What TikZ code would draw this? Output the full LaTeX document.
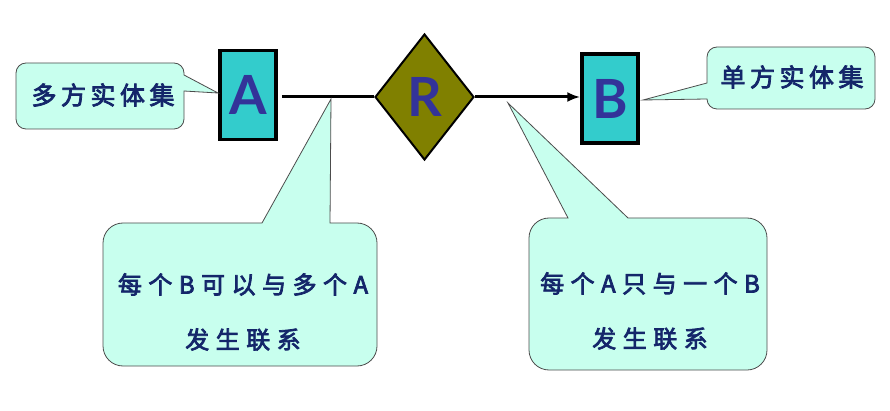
\documentclass[tikz,border=0pt]{standalone}
\usepackage{fontspec}
\usepackage{tikz}
\usetikzlibrary{shapes.geometric, arrows.meta}

\newfontfamily\cjk{Noto Sans CJK SC}[LetterSpace=18, FakeBold=3]
\newfontfamily\cjkwide{Noto Sans CJK SC}[LetterSpace=27, FakeBold=3]
\newfontfamily\letterfont{Lato}

\definecolor{mint}{HTML}{C8FFEE}
\definecolor{cyanbox}{HTML}{33CCCC}
\definecolor{olivebox}{HTML}{808000}
\definecolor{letterblue}{HTML}{333399}
\definecolor{textnavy}{HTML}{14266A}

\tikzset{
    entity/.style={draw=black, line width=3.5pt, fill=cyanbox, minimum width=56pt, minimum height=89pt, inner sep=0pt, text=letterblue, font=\letterfont\bfseries\fontsize{54}{54}\selectfont},
    relation/.style={diamond, draw=black, line width=2pt, fill=olivebox, minimum width=99pt, minimum height=126pt, inner sep=0pt, text=letterblue, font=\letterfont\bfseries\fontsize{54}{54}\selectfont},
    callbox/.style={draw=black!70, line width=0.8pt, fill=mint},
    calltext/.style={text=textnavy, font=\cjk\fontsize{25}{25}\selectfont},
    notetext/.style={text=textnavy, align=center, font=\cjkwide\fontsize{24}{55}\selectfont},
    link/.style={line width=3pt}
}

\begin{document}
\begin{tikzpicture}[x=1pt, y=-1pt]
    \useasboundingbox (0, 0) rectangle (890, 411);

    % draw entities and relation
    \node[entity] (A) at (248, 95) {A};
    \node[relation] (R) at (424.5, 97) {R};
    \node[entity] (B) at (610, 98.5) {B};

    \draw[link, shorten <=4pt] (A.east |- R.west) -- (R.west);
    \draw[link, -{Latex[length=13pt, width=10pt]}] (R.east) -- (R.east -| B.west);

    % pointer tips
    \coordinate (tipA) at (218, 93);
    \coordinate (tipB) at (643, 100);
    \coordinate (tipM) at (331, 99);
    \coordinate (tipO) at (508, 103);

    % draw callouts
    \draw[callbox] (100, 63) [rounded corners=10pt] -- (184, 63) [sharp corners] -- (184, 75) -- (tipA) -- (184, 91) [rounded corners=10pt] -- (184, 129) -- (16, 129) -- (16, 63) -- cycle;
    \draw[callbox] (790, 47) [rounded corners=10pt] -- (875, 47) -- (875, 109) -- (707, 109) [sharp corners] -- (707, 99) -- (tipB) -- (707, 83) [rounded corners=10pt] -- (707, 47) -- cycle;
    \draw[callbox] (103, 300) [rounded corners=20pt] -- (103, 223) [sharp corners] -- (262, 223) -- (tipM) -- (330, 223) [rounded corners=20pt] -- (377, 223) -- (377, 366) -- (103, 366) -- cycle;
    \draw[callbox] (529, 300) [rounded corners=20pt] -- (529, 218) [sharp corners] -- (568, 218) -- (tipO) -- (628, 218) [rounded corners=20pt] -- (767, 218) -- (767, 370) -- (529, 370) -- cycle;

    % draw texts
    \node[calltext] (many) at (103, 95) {多方实体集};
    \node[calltext] (one) at (792, 77) {单方实体集};
    \node[notetext] (manynote) at (243, 312) {每个B可以与多个A\\发生联系};
    \node[notetext] (onenote) at (650, 311) {每个A只与一个B\\发生联系};
\end{tikzpicture}
\end{document}
